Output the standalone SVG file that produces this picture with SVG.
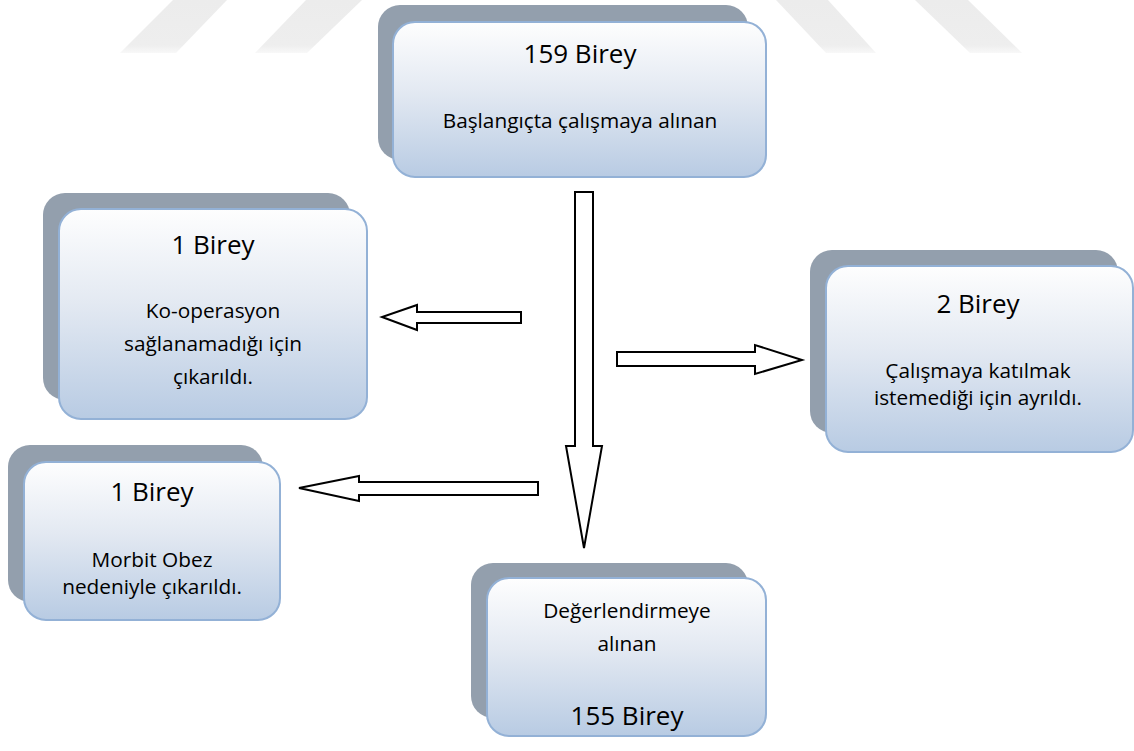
<svg xmlns="http://www.w3.org/2000/svg" width="1134" height="751" viewBox="0 0 1134 751">
<defs>
<linearGradient id="boxfill" x1="0" y1="0" x2="0" y2="1">
<stop offset="0" stop-color="#fefefe"/>
<stop offset="0.45" stop-color="#e3e9f2"/>
<stop offset="1" stop-color="#b8cbe3"/>
</linearGradient>
<linearGradient id="wm" x1="0" y1="0" x2="0" y2="1">
<stop offset="0" stop-color="#ececec"/>
<stop offset="0.85" stop-color="#eeeeee"/>
<stop offset="1" stop-color="#f8f8f8"/>
</linearGradient>
<style>
.shadow{fill:#939fad;}
.box{fill:url(#boxfill);stroke:#93b1d6;stroke-width:2;}
.t{font-family:"Open Sans","Noto Sans",sans-serif;fill:#000;text-anchor:middle;}
.big{font-size:26px;}
.sm{font-size:20.8px;}
.arrow{fill:#fff;stroke:#000;stroke-width:2;stroke-linejoin:miter;}
</style>
</defs>
<rect width="1134" height="751" fill="#fff"/>
<g id="watermark" fill="url(#wm)">
<polygon points="173,0 227,0 176,53 120,53"/>
<polygon points="306,0 362,0 307,53 255,53"/>
<polygon points="776,0 828,0 876,53 826,53"/>
<polygon points="915,0 968,0 1022,53 970,53"/>
</g>
<g id="connectors">
<polygon class="arrow" points="575,192 593,192 593,446 602,446 584,548 566,446 575,446"/>
<polygon class="arrow" points="521,312 521,323 417,323 417,330 382,317 417,305 417,312"/>
<polygon class="arrow" points="617,352 755,352 755,345 802,360 755,374 755,366 617,366"/>
<polygon class="arrow" points="538,482 538,495 359,495 359,501 299,488 359,476 359,482"/>
</g>
<g id="n-start">
<rect class="shadow" x="378" y="5" width="370" height="155" rx="22"/>
<rect class="box" x="393" y="22" width="373" height="155" rx="22"/>
<text class="t big" x="580" y="63">159 Birey</text>
<text class="t sm" x="580" y="128">Başlangıçta çalışmaya alınan</text>
</g>
<g id="n-kooperasyon">
<rect class="shadow" x="43" y="193" width="307" height="207" rx="22"/>
<rect class="box" x="59" y="209" width="308" height="210" rx="22"/>
<text class="t big" x="213" y="254">1 Birey</text>
<text class="t sm" x="213" y="318">Ko-operasyon</text>
<text class="t sm" x="213" y="351">sağlanamadığı için</text>
<text class="t sm" x="213" y="384">çıkarıldı.</text>
</g>
<g id="n-katilmak">
<rect class="shadow" x="810" y="250" width="308" height="183" rx="22"/>
<rect class="box" x="826" y="266" width="307" height="186" rx="22"/>
<text class="t big" x="978" y="313">2 Birey</text>
<text class="t sm" x="978" y="378">Çalışmaya katılmak</text>
<text class="t sm" x="978" y="405">istemediği için ayrıldı.</text>
</g>
<g id="n-morbit">
<rect class="shadow" x="8" y="445" width="255" height="157" rx="22"/>
<rect class="box" x="24" y="462" width="256" height="158" rx="22"/>
<text class="t big" x="152" y="501">1 Birey</text>
<text class="t sm" x="152" y="567">Morbit Obez</text>
<text class="t sm" x="152" y="594">nedeniyle çıkarıldı.</text>
</g>
<g id="n-degerlendirme">
<rect class="shadow" x="471" y="563" width="277" height="155" rx="22"/>
<rect class="box" x="487" y="578" width="279" height="158" rx="22"/>
<text class="t sm" x="627" y="618">Değerlendirmeye</text>
<text class="t sm" x="627" y="651">alınan</text>
<text class="t big" x="627" y="725">155 Birey</text>
</g>
</svg>
